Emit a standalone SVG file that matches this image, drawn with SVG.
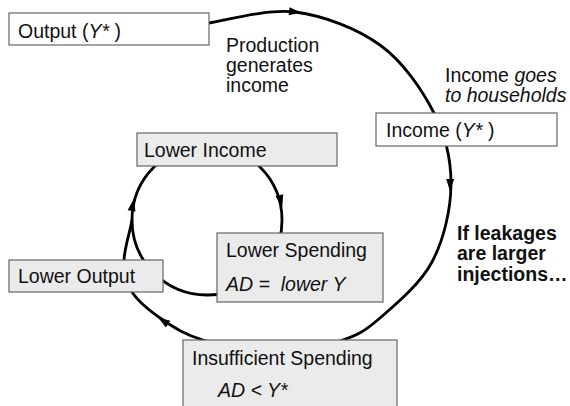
<svg xmlns="http://www.w3.org/2000/svg" width="570" height="406" viewBox="0 0 570 406">
<style>
.t{font-family:"Liberation Sans",Arial,sans-serif;font-size:19.5px;fill:#111}
.b{font-weight:bold}
.box{stroke:#666;stroke-width:1.2}
.w{fill:#fff}
.g{fill:#ebebeb}
.ln{fill:none;stroke:#000;stroke-width:2.8}
</style>
<defs>
<path id="ah" d="M1,0 L-11,-4 L-11,4 Z" fill="#000"/>
</defs>
<rect width="570" height="406" fill="#fff"/>
<g id="connectors">
<path class="ln" d="M209,23 C223.3,21.2 266.5,8.3 295,12 C323.5,15.7 356.8,28.2 380,45 C403.2,61.8 422.2,89.7 434,113 C445.8,136.3 451.3,160.2 451,185 C450.7,209.8 443.8,239.8 432,262 C420.2,284.2 395.3,304.8 380,318 C364.7,331.2 358,335.2 340,341 C322,346.8 294.8,353.2 272,353 C249.2,352.8 221.2,345.5 203,340 C184.8,334.5 174.8,328 163,320 C151.2,312 138.5,302 132,292 C125.5,282 123.8,270 124,260 C124.5,248 130,232 132,220"/>
<circle class="ln" cx="207" cy="220" r="75"/>
<use href="#ah" transform="translate(300,12.5) rotate(7)"/>
<use href="#ah" transform="translate(450,190) rotate(91)"/>
<use href="#ah" transform="translate(159,318) rotate(214)"/>
<use href="#ah" transform="translate(133.5,200) rotate(-80)"/>
<use href="#ah" transform="translate(282,206) rotate(76)"/>
</g>
<g id="output">
<rect class="box w" x="9" y="13" width="200" height="32"/>
<text class="t" x="18" y="38">Output (<tspan font-style="italic">Y*</tspan> )</text>
</g>
<g id="production-label">
<text class="t" x="226" y="52">Production</text>
<text class="t" x="226" y="72">generates</text>
<text class="t" x="226" y="92">income</text>
</g>
<g id="income-label">
<text class="t" x="445" y="82">Income <tspan font-style="italic">goes</tspan></text>
<text class="t" x="445" y="102" font-style="italic">to households</text>
</g>
<g id="income">
<rect class="box w" x="376" y="113" width="181" height="33"/>
<text class="t" x="386" y="137">Income (<tspan font-style="italic">Y*</tspan> )</text>
</g>
<g id="lower-income">
<rect class="box g" x="137" y="133" width="200" height="33"/>
<text class="t" x="144" y="157">Lower Income</text>
</g>
<g id="lower-spending">
<rect class="box g" x="217" y="233" width="166" height="69"/>
<text class="t" x="226" y="257">Lower Spending</text>
<text class="t" x="226" y="291" font-style="italic" xml:space="preserve">AD =  lower Y</text>
</g>
<g id="lower-output">
<rect class="box g" x="9" y="260" width="154" height="32"/>
<text class="t" x="18" y="283">Lower Output</text>
</g>
<g id="insufficient-spending">
<rect class="box g" x="183" y="340" width="214" height="72"/>
<text class="t" x="192" y="365">Insufficient Spending</text>
<text class="t" x="218" y="397" font-style="italic">AD &lt; Y*</text>
</g>
<g id="leakage-label">
<text class="t b" x="457" y="240">If leakages</text>
<text class="t b" x="457" y="260">are larger</text>
<text class="t b" x="457" y="281">injections…</text>
</g>
</svg>
